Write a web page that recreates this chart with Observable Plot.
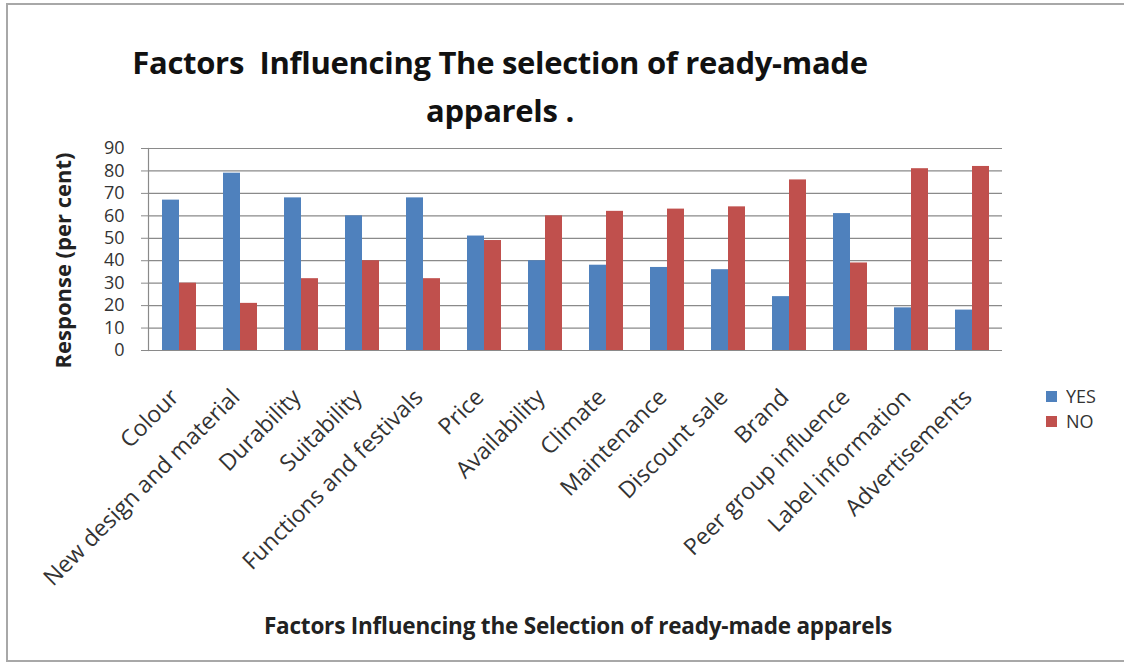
<!DOCTYPE html>
<html>
<head>
<meta charset="utf-8">
<script src="https://cdn.jsdelivr.net/npm/d3@7"></script>
<script src="https://cdn.jsdelivr.net/npm/@observablehq/plot@0.6"></script>
<style>
  body { margin: 0; background: #fff; font-family: "Open Sans", sans-serif; color: #222; }
  #fig { position: relative; width: 1124px; height: 669px; overflow: hidden; background: #fff; }
  #border { position: absolute; left: 6px; top: 3px; width: 1140px; height: 659px;
            border: 2px solid #a8a8a8; border-right: none; box-sizing: border-box; }
  #title { position: absolute; left: 50px; width: 900px; top: 38px; text-align: center;
           font-weight: bold; font-size: 31px; line-height: 48px; color: #111; letter-spacing: -0.3px; }
  #chart { position: absolute; left: 0; top: 130px; }
  #xlabel { position: absolute; left: 200px; width: 756px; top: 610px; text-align: center;
            font-weight: bold; font-size: 22.5px; color: #222; letter-spacing: -0.2px; white-space: nowrap; }
  #legend { position: absolute; left: 1046px; top: 384px; }
</style>
</head>
<body>
<div id="fig">
  <div id="border"></div>
  <div id="title">Factors&nbsp; Influencing The selection of ready-made<br>apparels .</div>
  <div id="chart"></div>
  <div id="xlabel">Factors Influencing the Selection of ready-made apparels</div>
  <div id="legend"></div>
</div>
<script>
// Survey responses (per cent) for each factor
const factors = [
  "Colour", "New design and material", "Durability", "Suitability",
  "Functions and festivals", "Price", "Availability", "Climate",
  "Maintenance", "Discount sale", "Brand", "Peer group influence",
  "Label information", "Advertisements"
];
const yesValues = [67, 79, 68, 60, 68, 51, 40, 38, 37, 36, 24, 61, 19, 18];
const noValues  = [30, 21, 32, 40, 32, 49, 60, 62, 63, 64, 76, 39, 81, 82];
const seriesNames = ["YES", "NO"];
const seriesColors = ["#4F81BD", "#C0504D"];
const yTicks = [0, 10, 20, 30, 40, 50, 60, 70, 80, 90];
const yTitle = "Response (per cent)";

const rows = factors.flatMap((f, i) => [
  {factor: f, answer: "YES", value: yesValues[i]},
  {factor: f, answer: "NO", value: noValues[i]}
]);

const chart = Plot.plot({
  width: 1124,
  height: 470,
  marginTop: 18,
  marginBottom: 250,
  marginLeft: 145,
  marginRight: 119,
  style: {fontFamily: "Open Sans, sans-serif", color: "#222", background: "transparent", overflow: "visible"},
  fx: {domain: factors, padding: 0, label: null},
  x: {domain: seriesNames, paddingInner: 0, paddingOuter: 0.7, axis: null},
  y: {domain: [0, 90], label: null},
  color: {domain: seriesNames, range: seriesColors},
  marks: [
    Plot.gridY(yTicks, {stroke: "#8a8a8a", strokeOpacity: 1, strokeWidth: 1.2}),
    Plot.barY(rows, {fx: "factor", x: "answer", y: "value", fill: "answer"}),
    Plot.frame({anchor: "left", facetAnchor: "left", stroke: "#8a8a8a", strokeWidth: 1.2}),
    Plot.axisY(yTicks, {
      tickSize: 7, tickPadding: 17, fontSize: 18, stroke: "#8a8a8a",
      label: null, fill: "#333"
    }),
    Plot.axisFx({
      anchor: "bottom", tickRotate: -45, tickSize: 0, tickPadding: 43, dx: -4, fontSize: 23,
      label: null, fill: "#333"
    }),
    Plot.text([yTitle], {
      facetAnchor: "left", frameAnchor: "left", textAnchor: "middle",
      dx: -85, dy: 11, rotate: -90, fontSize: 22, fontWeight: "bold", fill: "#222"
    })
  ]
});
document.getElementById("chart").appendChild(chart);

const legend = chart.legend("color", {
  columns: 1, swatchSize: 11,
  style: {fontFamily: "Open Sans, sans-serif", fontSize: "18px", color: "#333"}
});
document.getElementById("legend").appendChild(legend);
</script>
</body>
</html>
